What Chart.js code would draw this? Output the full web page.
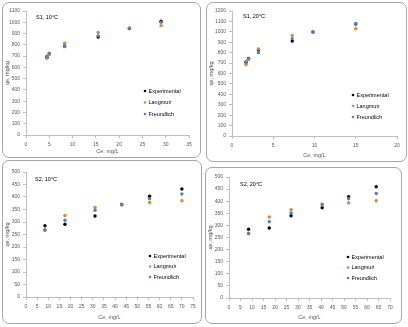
<!DOCTYPE html>
<html>
<head>
<meta charset="utf-8">
<script src="https://cdn.jsdelivr.net/npm/chart.js@4/dist/chart.umd.min.js"></script>
<style>
  html, body { margin: 0; padding: 0; background: #fff; }
  body { width: 408px; height: 327px; position: relative; overflow: hidden; }
  .panel { position: absolute; border: 1px solid #a6a6a6; border-radius: 7px; background: #fff; }
  .panel canvas { display: block; }
</style>
</head>
<body>
<div class="panel" style="left:2px;top:2px;width:197px;height:154px"><canvas id="c1" width="197" height="154"></canvas></div>
<div class="panel" style="left:206px;top:2px;width:199px;height:158px"><canvas id="c2" width="199" height="158"></canvas></div>
<div class="panel" style="left:2px;top:160px;width:198px;height:162px"><canvas id="c3" width="198" height="162"></canvas></div>
<div class="panel" style="left:205px;top:167px;width:195px;height:155px"><canvas id="c4" width="195" height="155"></canvas></div>
<script>
// S1, 10°C
const s1t10Ce = [4.5, 5.0, 8.3, 15.5, 22.2, 29.0];
const s1t10Exp = [690, 720, 790, 870, 945, 1010];
const s1t10Lang = [680, 715, 815, 910, 950, 970];
const s1t10Freu = [700, 725, 785, 880, 945, 1000];

// S1, 20°C
const s1t20Ce = [1.7, 2.0, 3.2, 7.3, 9.8, 15.0];
const s1t20Exp = [705, 745, 825, 912, 1000, 1075];
const s1t20Lang = [685, 738, 835, 965, 1000, 1030];
const s1t20Freu = [715, 742, 800, 935, 995, 1080];

// S2, 10°C
const s2t10Ce = [8.5, 17.5, 31, 43, 55.5, 70];
const s2t10Exp = [285, 291, 324, 370, 403, 432];
const s2t10Lang = [270, 326, 358, 368, 378, 385];
const s2t10Freu = [267, 307, 347, 370, 393, 412];

// S2, 20°C
const s2t20Ce = [8.5, 17.5, 27, 40.5, 52, 64];
const s2t20Exp = [284, 289, 340, 373, 419, 460];
const s2t20Lang = [268, 335, 365, 385, 393, 402];
const s2t20Freu = [266, 315, 351, 388, 410, 432];

const seriesNames = ["Experimental", "Langmuir", "Freundlich"];
const seriesColors = ["#000000", "#ED7D31", "#4F81BD"];
const xTitle = "Ce, mg/L";
const yTitle = "qe, mg/kg";

const FONT = "'Liberation Sans', Arial, sans-serif";
const AXIS = "#bfbfbf";
const TICK = "#595959";

const panelText = {
  id: "panelText",
  afterDraw(chart, args, o) {
    const { ctx, chartArea } = chart;
    ctx.save();
    ctx.textBaseline = "middle";
    ctx.fillStyle = "#000";
    ctx.font = `5.5px ${FONT}`;
    ctx.fillText(o.label, chartArea.left + o.labelX, chartArea.top + o.labelY);
    chart.data.datasets.forEach((ds, i) => {
      const x = chartArea.left + o.legX;
      const y = chartArea.top + o.legY + i * o.legGap;
      ctx.fillStyle = ds.backgroundColor;
      ctx.beginPath();
      ctx.arc(x, y, 1.3, 0, Math.PI * 2);
      ctx.fill();
      ctx.fillStyle = "#000";
      ctx.fillText(ds.label, x + 3.5, y);
    });
    ctx.restore();
  },
};

function makeChart(id, cfg) {
  const ys = [cfg.exp, cfg.lang, cfg.freu];
  const datasets = ys.map((vals, i) => ({
    label: seriesNames[i],
    data: vals.map((v, j) => ({ x: cfg.ce[j], y: v })),
    backgroundColor: seriesColors[i],
    borderColor: seriesColors[i],
    pointRadius: 1.7,
    pointBorderWidth: 0,
    order: 2 - i,
  }));

  new Chart(document.getElementById(id).getContext("2d"), {
    type: "scatter",
    data: { datasets },
    options: {
      responsive: false,
      animation: false,
      layout: { padding: { top: cfg.padTop, right: cfg.padRight, left: 0, bottom: 0 } },
      plugins: {
        legend: { display: false },
        tooltip: { enabled: false },
        panelText: cfg.text,
      },
      scales: {
        x: {
          type: "linear",
          min: 0,
          max: cfg.xMax,
          ticks: { stepSize: 5, color: TICK, font: { size: 5, family: FONT }, padding: 4, maxRotation: 0, autoSkip: false, callback: (v) => String(v) },
          grid: { drawOnChartArea: false, drawTicks: true, tickLength: 3, color: AXIS },
          border: { color: AXIS },
          title: { display: true, text: xTitle, color: TICK, font: { size: 5.5, family: FONT }, padding: { top: 0, bottom: 2 } },
          afterFit: (s) => { s.height = cfg.xH; },
        },
        y: {
          min: 0,
          max: cfg.yMax,
          ticks: { stepSize: cfg.yStep, color: TICK, font: { size: 5, family: FONT }, padding: 3, autoSkip: false, callback: (v) => String(v) },
          grid: { drawOnChartArea: false, drawTicks: true, tickLength: 3, color: AXIS },
          border: { color: AXIS },
          title: { display: true, text: yTitle, color: TICK, font: { size: 5.5, family: FONT }, padding: { top: 1, bottom: 0 } },
          afterFit: (s) => { s.width = cfg.yW; },
        },
      },
    },
    plugins: [panelText],
  });
}

makeChart("c1", {
  ce: s1t10Ce, exp: s1t10Exp, lang: s1t10Lang, freu: s1t10Freu,
  xMax: 35, yMax: 1100, yStep: 100,
  padTop: 8, padRight: 11, xH: 22, yW: 23,
  text: { label: "S1, 10°C", labelX: 10, labelY: 6, legX: 119, legY: 80, legGap: 11.5 },
});

makeChart("c2", {
  ce: s1t20Ce, exp: s1t20Exp, lang: s1t20Lang, freu: s1t20Freu,
  xMax: 20, yMax: 1200, yStep: 100,
  padTop: 8, padRight: 9, xH: 25, yW: 25,
  text: { label: "S1, 20°C", labelX: 11, labelY: 5, legX: 121, legY: 84, legGap: 11 },
});

makeChart("c3", {
  ce: s2t10Ce, exp: s2t10Exp, lang: s2t10Lang, freu: s2t10Freu,
  xMax: 75, yMax: 500, yStep: 50,
  padTop: 11, padRight: 8, xH: 26, yW: 23,
  text: { label: "S2, 10°C", labelX: 9, labelY: 7, legX: 124, legY: 84, legGap: 10.5 },
});

makeChart("c4", {
  ce: s2t20Ce, exp: s2t20Exp, lang: s2t20Lang, freu: s2t20Freu,
  xMax: 70, yMax: 500, yStep: 50,
  padTop: 9, padRight: 11, xH: 25, yW: 23,
  text: { label: "S2, 20°C", labelX: 11, labelY: 7, legX: 119, legY: 80, legGap: 10.5 },
});
</script>
</body>
</html>
